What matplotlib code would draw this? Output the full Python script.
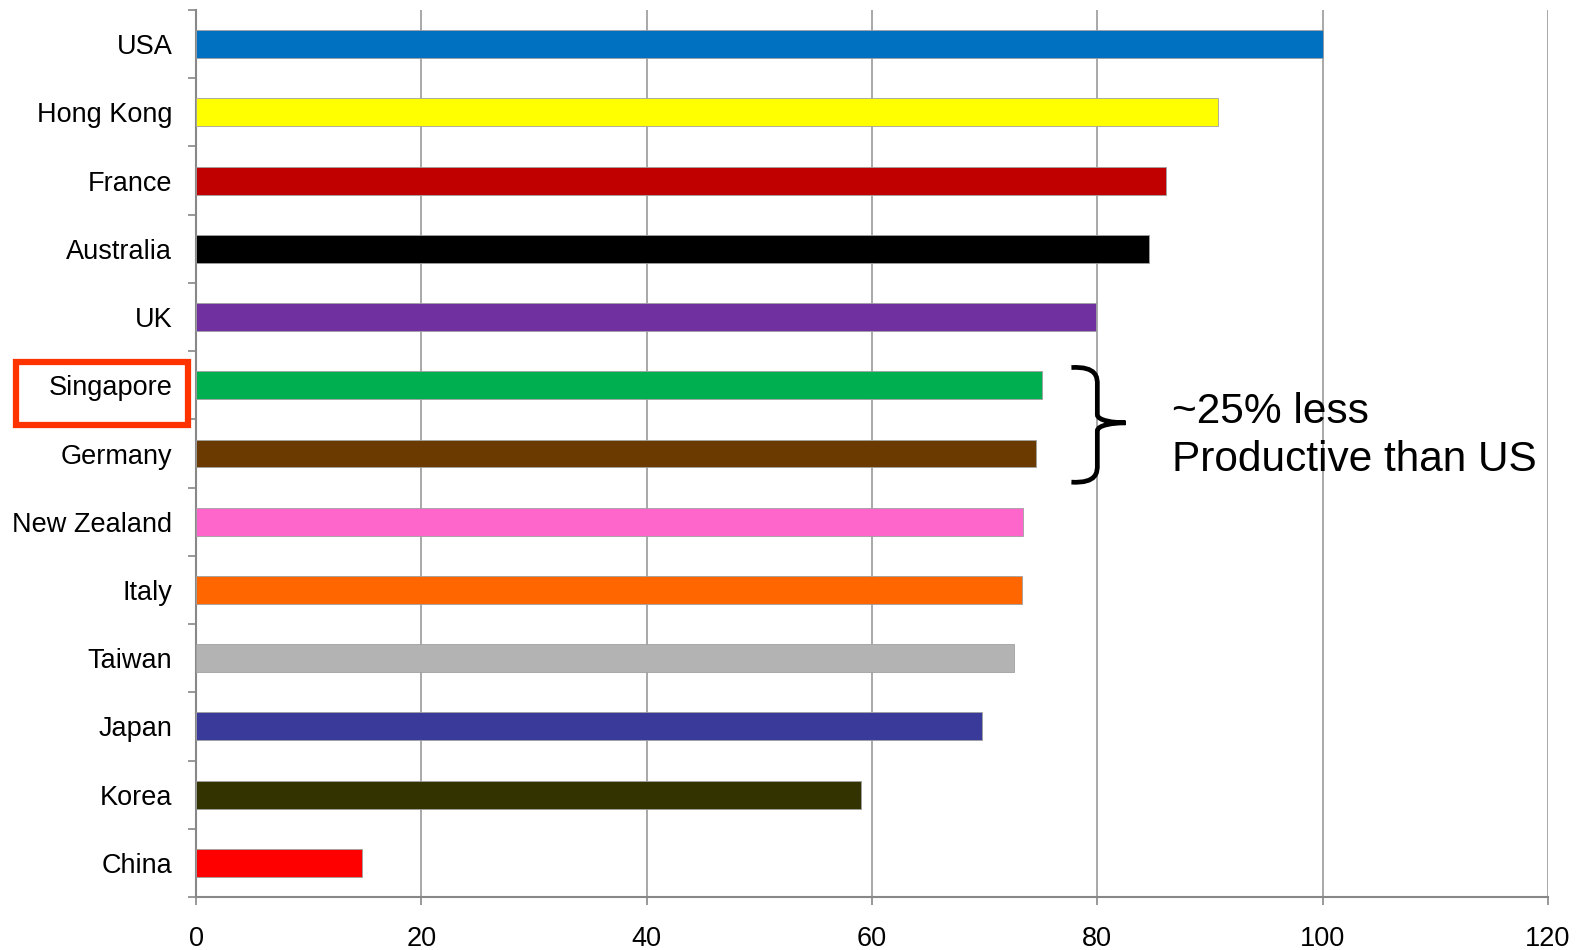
import matplotlib
matplotlib.use("Agg")
import matplotlib.pyplot as plt
from matplotlib.patches import Rectangle
from matplotlib.path import Path
from matplotlib.patches import PathPatch
import numpy as np

plt.rcParams['font.family'] = ['Liberation Sans', 'DejaVu Sans']

countries = ["USA", "Hong Kong", "France", "Australia", "UK", "Singapore", "Germany",
             "New Zealand", "Italy", "Taiwan", "Japan", "Korea", "China"]
values = [100, 90.7, 86.1, 84.6, 79.9, 75.1, 74.6, 73.4, 73.3, 72.6, 69.8, 59.0, 14.7]
colors = ["#0070C0", "#FFFF00", "#C00000", "#000000", "#7030A0", "#00B050", "#6B3A00",
          "#FF66CC", "#FF6600", "#B3B3B3", "#3A3A9A", "#333300", "#FF0000"]
xticks = [0, 20, 40, 60, 80, 100, 120]
note = "~25% less\nProductive than US"

fig = plt.figure(figsize=(15.85, 9.5), dpi=100)
ax = fig.add_axes([196/1585, 1-897/950, (1548-196)/1585, (897-10)/950])

y = np.arange(len(countries))
ax.barh(y, values, height=0.41, color=colors, edgecolor="#A0A0A0", linewidth=0.6, zorder=3)

ax.set_xlim(0, 120)
ax.set_ylim(len(countries)-0.5, -0.5)
ax.set_xticks(xticks)
ax.set_xticklabels([str(t) for t in xticks], fontsize=19.5)
ax.set_yticks(y)
ax.set_yticklabels(countries, fontsize=19.5)
ax.set_yticks(np.arange(len(countries)+1)-0.5, minor=True)

ax.tick_params(axis='y', which='major', length=0, pad=17)
ax.tick_params(axis='y', which='minor', length=6, width=1.2, color="#888888", direction='out')
ax.tick_params(axis='x', which='major', length=6, width=1.2, color="#888888", pad=15)

ax.grid(axis='x', color="#999999", linewidth=1.2, zorder=0)
ax.set_axisbelow(True)
for s in ['top', 'right']:
    ax.spines[s].set_visible(False)
for s in ['left', 'bottom']:
    ax.spines[s].set_color("#888888")
    ax.spines[s].set_linewidth(1.5)

# brace (data coords: x in value units, y in category units)
x0, xs, xt = 77.7, 80.0, 82.5
ytop, ymid, ybot = 4.74, 5.55, 6.42
verts = [(x0, ytop), (xs, ytop - 0.02), (xs, ytop + 0.15), (xs, ytop + 0.25),
         (xs, ymid - 0.12),
         (xs, ymid - 0.03), (xt - 1.0, ymid), (xt, ymid),
         (xt - 1.0, ymid), (xs, ymid + 0.03), (xs, ymid + 0.12),
         (xs, ybot - 0.25),
         (xs, ybot - 0.15), (xs, ybot + 0.02), (x0, ybot)]
codes = [Path.MOVETO, Path.CURVE4, Path.CURVE4, Path.CURVE4,
         Path.LINETO,
         Path.CURVE4, Path.CURVE4, Path.CURVE4,
         Path.CURVE4, Path.CURVE4, Path.CURVE4,
         Path.LINETO,
         Path.CURVE4, Path.CURVE4, Path.CURVE4]
ax.add_patch(PathPatch(Path(verts, codes), facecolor='none', edgecolor='black',
                       linewidth=3.4, clip_on=False, zorder=5, capstyle='butt'))

ax.text(86.6, 5.74, note, fontsize=30.5, va='center', ha='left', linespacing=1.25, zorder=6)

# red highlight box around Singapore label
fig.patches.append(Rectangle((16/1585, 1-425/950), 172/1585, 63/950,
                             transform=fig.transFigure, fill=False,
                             edgecolor="#FF3300", linewidth=4.5))

fig.savefig("out.png", dpi=100)
